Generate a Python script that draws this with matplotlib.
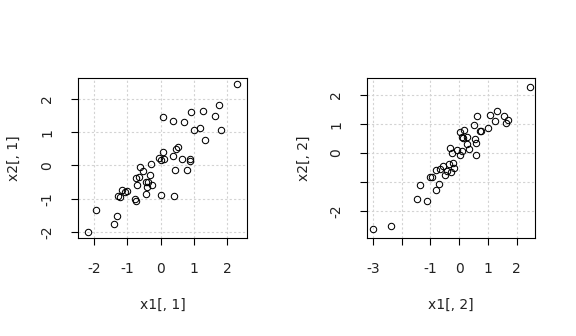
import matplotlib
matplotlib.use("Agg")
import matplotlib.pyplot as plt

# panel 1: x1[,1] vs x2[,1]
x1_1 = [2.29, 1.75, 1.27, 0.91, 1.63, 0.08, 0.37, 0.70, 1.18, 1.00,
        1.81, 1.33, 0.52, 0.46, 0.07, -0.06, 0.10, 0.02, 0.37, 0.64,
        0.89, 0.88, -0.30, -0.63, -0.53, 0.43, 0.81, -0.32, -0.66, -0.74,
        -0.45, -0.37, -0.26, -0.71, -0.42, -1.17, -1.00, -1.08, -1.28, -1.23,
        -0.44, 0.01, 0.40, -0.77, -0.73, -1.94, -1.30, -1.40, -2.17]
x2_1 = [2.45, 1.82, 1.64, 1.61, 1.49, 1.46, 1.33, 1.30, 1.13, 1.07,
        1.07, 0.77, 0.55, 0.51, 0.41, 0.22, 0.20, 0.15, 0.28, 0.20,
        0.20, 0.12, 0.04, -0.06, -0.17, -0.13, -0.13, -0.29, -0.35, -0.38,
        -0.49, -0.49, -0.59, -0.59, -0.65, -0.73, -0.76, -0.79, -0.91, -0.94,
        -0.87, -0.89, -0.91, -1.00, -1.07, -1.33, -1.51, -1.75, -2.00]

# panel 2: x1[,2] vs x2[,2]
x1_2 = [2.45, 1.31, 1.06, 1.55, 0.61, 1.24, 1.69, 1.62, 0.51, 1.00,
        0.72, 0.76, 0.15, 0.01, 0.10, 0.14, 0.28, 0.54, 0.58, 0.27,
        0.34, -0.32, -0.07, -0.25, 0.09, 0.02, 0.58, -0.22, -0.36, -0.57,
        -0.19, -0.67, -0.82, -0.42, -0.30, -0.50, -0.95, -1.01, -0.71, -1.37,
        -0.81, -1.47, -1.12, -2.36, -2.99]
x2_2 = [2.27, 1.45, 1.31, 1.28, 1.28, 1.11, 1.14, 1.03, 0.96, 0.85,
        0.77, 0.75, 0.80, 0.73, 0.54, 0.51, 0.54, 0.47, 0.36, 0.33,
        0.14, 0.18, 0.10, -0.01, 0.07, -0.08, -0.08, -0.33, -0.39, -0.46,
        -0.53, -0.55, -0.59, -0.61, -0.66, -0.77, -0.83, -0.84, -1.05, -1.11,
        -1.28, -1.57, -1.64, -2.53, -2.61]

panels = [
    dict(x=x1_1, y=x2_1, xlab="x1[, 1]", ylab="x2[, 1]",
         xlim=(-2.48, 2.6), ylim=(-2.18, 2.63),
         xticks=[-2, -1, 0, 1, 2], xtl=["-2", "-1", "0", "1", "2"],
         yticks=[-2, -1, 0, 1, 2], ytl=["-2", "-1", "0", "1", "2"],
         rect=[78 / 576, 1 - 238 / 336, 169 / 576, 160 / 336]),
    dict(x=x1_2, y=x2_2, xlab="x1[, 2]", ylab="x2[, 2]",
         xlim=(-3.2, 2.63), ylim=(-2.93, 2.59),
         xticks=[-3, -2, -1, 0, 1, 2], xtl=["-3", "", "-1", "0", "1", "2"],
         yticks=[-2, -1, 0, 1, 2], ytl=["-2", "", "0", "1", "2"],
         rect=[367 / 576, 1 - 238 / 336, 168 / 576, 160 / 336]),
]

txt = "#222222"
fig = plt.figure(figsize=(5.76, 3.36), dpi=100)

for p in panels:
    ax = fig.add_axes(p["rect"])
    ax.set_xlim(p["xlim"])
    ax.set_ylim(p["ylim"])
    for v in p["xticks"]:
        ax.axvline(v, color="lightgray", lw=0.8, ls=(0, (2, 2)), zorder=0)
    for v in p["yticks"]:
        ax.axhline(v, color="lightgray", lw=0.8, ls=(0, (2, 2)), zorder=0)
    ax.plot(p["x"], p["y"], "o", mfc="none", mec="black", ms=4.6, mew=0.75)
    ax.set_xticks(p["xticks"])
    ax.set_xticklabels(p["xtl"])
    ax.set_yticks(p["yticks"])
    ax.set_yticklabels(p["ytl"], rotation=90, va="center")
    ax.tick_params(length=5.2, width=0.8, pad=12, labelsize=10, colors="black",
                   labelcolor=txt)
    for s in ax.spines.values():
        s.set_linewidth(0.8)
    ax.set_xlabel(p["xlab"], fontsize=10, color=txt)
    ax.set_ylabel(p["ylab"], fontsize=10, color=txt)
    ax.xaxis.set_label_coords(0.5, -67 / 160)
    ax.xaxis.label.set_va("center")
    ax.yaxis.set_label_coords(-64 / 169, 0.5)
    ax.yaxis.label.set_va("center")

fig.savefig("out.png", dpi=100)
